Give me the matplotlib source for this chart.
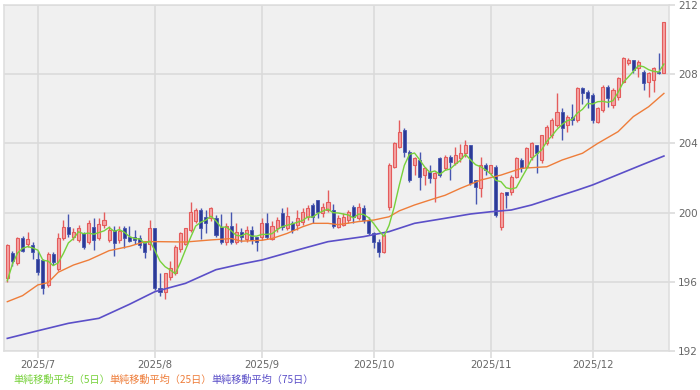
import matplotlib
matplotlib.use('Agg')
import matplotlib.pyplot as plt
import numpy as np
import pandas as pd

# daily candles (late Jun 2025 - mid Dec 2025), index = trading day
opens = [196.24, 197.65, 197.07, 198.55, 198.17, 198.13, 197.32, 197.26, 195.82, 197.59,
         196.74, 198.52, 199.19, 198.6, 198.42, 198.8, 198.32, 199.19, 198.55, 199.3,
         198.42, 199.0, 198.42, 199.1, 198.6, 198.6, 198.52, 198.23, 198.17, 199.1,
         195.62, 195.43, 196.3, 196.5, 197.9, 198.2, 199.0, 199.5, 200.15, 199.77,
         199.67, 199.67, 199.19, 198.3, 199.2, 198.3, 198.9, 198.5, 199.0, 198.6,
         198.6, 199.4, 198.5, 199.1, 199.95, 199.1, 199.4, 199.28, 199.47, 199.76,
         200.43, 200.72, 199.95, 200.15, 200.15, 199.19, 199.28, 199.57, 200.34, 199.67,
         200.24, 199.57, 198.8, 198.32, 197.74, 200.34, 202.65, 203.81, 204.78, 203.52,
         202.75, 203.04, 202.17, 202.37, 201.98, 203.14, 202.56, 203.2, 202.85, 203.14,
         203.42, 203.9, 201.88, 201.4, 202.75, 202.27, 202.65, 199.19, 201.21, 201.21,
         202.08, 203.04, 202.65, 203.23, 203.9, 203.04, 204.0, 204.48, 205.06, 205.83,
         205.06, 205.54, 205.35, 207.18, 207.0, 206.8, 205.25, 205.93, 207.28, 206.22,
         206.7, 207.57, 208.63, 208.82, 208.34, 208.15, 207.57, 207.66, 208.15, 208.05]
highs = [198.2, 197.8, 198.6, 198.67, 198.9, 198.3, 197.8, 197.3, 197.7, 197.7,
         198.8, 199.6, 199.9, 199.1, 199.3, 198.9, 199.6, 199.7, 199.67, 200.06,
         199.2, 199.2, 199.2, 199.2, 199.2, 199.0, 198.7, 198.3, 199.6, 199.1,
         196.5, 196.5, 197.2, 198.1, 198.9, 199.1, 200.6, 200.25, 200.25, 200.15,
         200.3, 199.86, 199.9, 199.4, 200.05, 199.4, 199.1, 199.2, 199.2, 198.6,
         199.7, 199.95, 199.5, 199.76, 200.24, 200.34, 199.5, 200.15, 200.24, 200.43,
         200.53, 200.72, 200.53, 201.3, 200.5, 199.86, 199.95, 200.15, 200.44, 200.53,
         200.44, 199.76, 198.9, 198.5, 198.8, 202.85, 204.1, 205.35, 204.87, 203.62,
         203.23, 203.52, 202.65, 202.75, 202.37, 203.23, 203.33, 203.33, 203.8, 203.99,
         204.2, 203.9, 201.88, 203.23, 202.85, 202.75, 202.75, 201.21, 201.21, 202.17,
         203.23, 203.14, 203.81, 204.1, 203.9, 204.48, 205.06, 205.45, 206.9, 206.03,
         205.64, 206.3, 207.28, 207.28, 207.09, 206.9, 206.12, 207.37, 207.37, 207.18,
         207.86, 209.01, 208.92, 208.82, 208.82, 208.24, 208.15, 208.43, 209.2, 211.03]
lows = [196.0, 196.9, 197.0, 197.7, 198.0, 197.3, 196.4, 195.3, 195.7, 196.97,
        196.6, 198.4, 198.6, 198.4, 198.3, 197.9, 198.2, 197.84, 198.42, 199.1,
        198.3, 197.5, 198.22, 197.94, 198.3, 198.2, 197.94, 197.36, 197.84, 195.5,
        195.2, 195.0, 196.1, 196.4, 197.7, 198.1, 198.9, 199.4, 198.5, 198.8,
        199.5, 198.6, 198.2, 198.1, 198.2, 198.2, 198.3, 198.3, 198.2, 197.8,
        198.4, 198.5, 198.4, 198.9, 199.0, 199.0, 198.8, 199.0, 199.28, 199.57,
        199.38, 199.67, 199.76, 200.05, 199.1, 199.1, 199.2, 199.38, 199.38, 199.57,
        199.38, 198.7, 197.93, 197.45, 197.64, 200.15, 202.56, 203.71, 203.23, 201.79,
        202.17, 201.3, 201.6, 201.69, 200.63, 202.08, 202.46, 201.9, 202.75, 202.94,
        203.23, 201.6, 200.5, 200.92, 202.17, 202.17, 199.76, 198.99, 200.25, 201.02,
        201.98, 202.37, 202.56, 203.04, 202.27, 202.85, 203.9, 204.29, 204.97, 204.2,
        204.68, 205.06, 205.25, 206.3, 206.03, 205.16, 205.16, 205.83, 206.12, 206.03,
        206.5, 207.47, 208.53, 208.05, 207.86, 207.09, 206.7, 206.99, 208.0, 208.05]
closes = [198.13, 197.2, 198.55, 197.8, 198.5, 197.74, 196.55, 195.62, 197.59, 197.17,
          198.55, 199.19, 198.75, 198.85, 199.1, 198.0, 199.38, 198.42, 199.32, 199.6,
          199.0, 198.23, 198.94, 198.55, 198.35, 198.42, 198.13, 197.74, 199.1, 195.62,
          195.4, 196.5, 196.82, 198.0, 198.8, 199.1, 200.06, 200.15, 199.1, 199.4,
          200.25, 198.7, 198.3, 199.2, 198.3, 198.9, 198.6, 199.0, 198.4, 198.3,
          199.4, 198.6, 199.2, 199.57, 199.18, 199.8, 199.0, 199.66, 200.05, 200.24,
          199.76, 200.05, 200.34, 200.63, 199.2, 199.67, 199.76, 200.05, 199.76, 200.34,
          199.57, 198.8, 198.32, 197.74, 198.7, 202.75, 204.0, 204.68, 203.52, 201.88,
          203.14, 202.08, 202.56, 201.98, 202.27, 202.17, 203.23, 202.94, 203.33, 203.42,
          203.9, 201.69, 201.5, 202.75, 202.46, 202.75, 199.86, 201.11, 201.02, 202.08,
          203.14, 202.56, 203.71, 204.0, 203.42, 204.48, 204.97, 205.35, 205.83, 204.87,
          205.54, 205.35, 207.18, 206.9, 206.6, 205.35, 206.03, 207.28, 206.6, 207.08,
          207.76, 208.92, 208.82, 208.24, 208.72, 207.47, 208.05, 208.34, 208.05, 211.03]
# closes before the first visible day (only used for the 5-day average)
prior_closes = [192.5, 195.3, 196.4, 198.0]

# 25-day and 75-day averages
ma25_idx = [0, 3, 6, 8, 10, 13, 16, 20, 24, 27, 30, 35, 40, 44, 46, 50, 52, 55, 58, 60,
            63, 65, 69, 72, 75, 77, 80, 84, 86, 89, 93, 97, 101, 106, 109, 113, 116, 120,
            123, 126, 129]
ma25_val = [194.85, 195.2, 195.82, 195.95, 196.55, 196.97, 197.26, 197.8, 198.05, 198.32,
            198.32, 198.3, 198.42, 198.5, 198.35, 198.4, 198.5, 198.8, 199.18, 199.38,
            199.38, 199.3, 199.48, 199.57, 199.76, 200.1, 200.44, 200.82, 201.0, 201.4,
            201.88, 202.17, 202.56, 202.65, 203.04, 203.43, 204.0, 204.68, 205.55, 206.12,
            206.89]
ma75_idx = [0, 6, 12, 18, 24, 29, 35, 41, 46, 50, 57, 63, 70, 75, 80, 86, 91, 95, 99, 103,
            108, 112, 115, 120, 125, 129]
ma75_val = [192.73, 193.17, 193.6, 193.89, 194.7, 195.43, 195.91, 196.7, 197.03, 197.26,
            197.84, 198.32, 198.61, 198.9, 199.38, 199.67, 199.92, 200.05, 200.15, 200.44,
            200.92, 201.3, 201.6, 202.2, 202.8, 203.27]

month_idx = [6, 29, 50, 72, 95, 115]
month_labels = ['2025/7', '2025/8', '2025/9', '2025/10', '2025/11', '2025/12']
y_ticks = [192, 196, 200, 204, 208, 212]
legend_labels = ['単純移動平均（5日）', '単純移動平均（25日）', '単純移動平均（75日）']

C_UP_FACE = "#f4a3a3"
C_UP_EDGE = "#e45c5c"
C_DN_FACE = "#2c3a96"
C_DN_EDGE = "#4656b0"
C_MA5 = "#77d13b"
C_MA25 = "#ee7d3a"
C_MA75 = "#5b4fc8"
C_GRID = "#d9d9d9"
C_TXT = "#666666"

o = np.array(opens); h = np.array(highs); l = np.array(lows); c = np.array(closes)
x = np.arange(len(c))
up = c >= o

all_closes = pd.Series(prior_closes + closes)
ma5 = all_closes.rolling(5).mean().values[len(prior_closes):]

fig = plt.figure(figsize=(7, 3.9), dpi=100)
fig.patch.set_facecolor('white')
ax = fig.add_axes([4 / 700, 39 / 390, 665 / 700, 346 / 390])
ax.set_facecolor('#f0f0f0')

# wicks
ax.vlines(x[up], l[up], h[up], color=C_UP_EDGE, lw=1, zorder=3)
ax.vlines(x[~up], l[~up], h[~up], color=C_DN_EDGE, lw=1, zorder=3)
# bodies
body_lo = np.minimum(o, c)
body_h = np.maximum(np.abs(c - o), 0.06)
ax.bar(x[up], body_h[up], bottom=body_lo[up], width=0.6,
       facecolor=C_UP_FACE, edgecolor=C_UP_EDGE, linewidth=0.8, zorder=4)
ax.bar(x[~up], body_h[~up], bottom=body_lo[~up], width=0.6,
       facecolor=C_DN_FACE, edgecolor=C_DN_EDGE, linewidth=0.6, zorder=4)

# moving averages
ax.plot(ma75_idx, ma75_val, color=C_MA75, lw=1.2, zorder=5)
ax.plot(ma25_idx, ma25_val, color=C_MA25, lw=1.0, zorder=5)
ax.plot(x, ma5, color=C_MA5, lw=1.0, zorder=5)

ax.set_xlim(-0.65, 130.0)
ax.set_ylim(192, 212)
ax.set_xticks(month_idx)
ax.set_xticklabels(month_labels)
ax.set_yticks(y_ticks)
ax.yaxis.tick_right()
ax.grid(True, color=C_GRID, lw=1.1, zorder=0)
ax.set_axisbelow(True)
ax.tick_params(axis='x', length=5, width=1.1, color=C_GRID, pad=1.5,
               labelsize=7.2, labelcolor=C_TXT)
ax.tick_params(axis='y', length=4, width=1.1, color=C_GRID, pad=2.5,
               labelsize=7.5, labelcolor=C_TXT)
for s in ax.spines.values():
    s.set_color('#dddddd')
    s.set_linewidth(1.1)

# legend row
leg_x = [13, 109, 211]
for lab, lx, col in zip(legend_labels, leg_x, [C_MA5, C_MA25, C_MA75]):
    fig.text(lx / 700, 1 - 380 / 390, lab, color=col, fontsize=7.3, va='center',
             ha='left', family=['Noto Sans CJK JP', 'DejaVu Sans'])

fig.savefig('out.png', dpi=100, facecolor='white')
plt.close(fig)
